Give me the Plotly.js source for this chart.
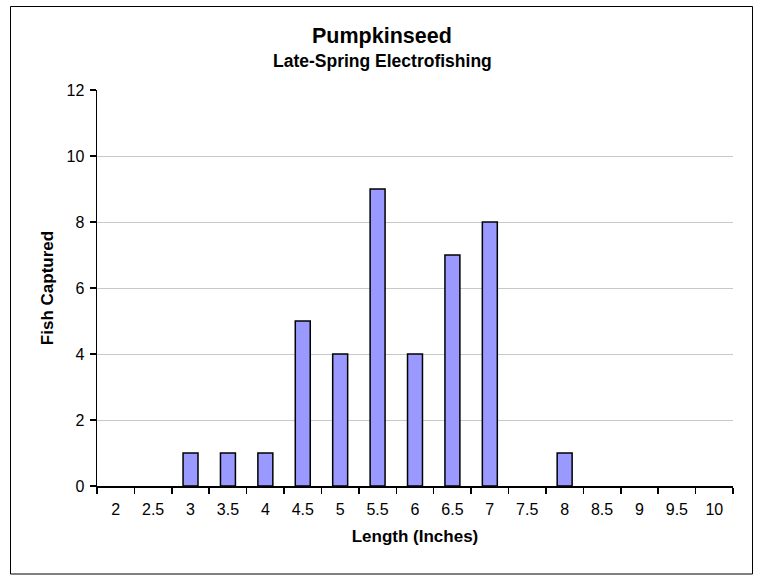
<!DOCTYPE html>
<html><head><meta charset="utf-8">
<script src="https://cdn.plot.ly/plotly-3.0.1.min.js"></script>
<style>html,body{margin:0;padding:0;background:#fff}#c{width:758px;height:576px}</style>
</head><body><div id="c"></div>
<script>
const lengths = ["2","2.5","3","3.5","4","4.5","5","5.5","6","6.5","7","7.5","8","8.5","9","9.5","10"];
const fishCaptured = [0,0,1,1,1,5,4,9,4,7,8,0,1,0,0,0,0];
const yTicks = [0,2,4,6,8,10,12];

const W=758,H=576,L=97,R=25,T=90,B=90;
const pw=W-L-R, ph=H-T-B;
const px=x=>(x-L)/pw, py=y=>(H-B-y)/ph;
const font='"Liberation Sans", Arial, sans-serif';

Plotly.newPlot('c',[{
  type:'bar', x:lengths, y:fishCaptured, width:0.4,
  marker:{color:'#9999ff', line:{color:'#000', width:fishCaptured.map(v=>v>0?1.5:0)}},
  hoverinfo:'skip'
}],{
  width:W,height:H,margin:{l:L,r:R,t:T,b:B},
  paper_bgcolor:'#fff',plot_bgcolor:'#fff',
  font:{family:font,color:'#000',size:15},
  showlegend:false,
  xaxis:{type:'category',tickson:'boundaries',ticks:'outside',ticklen:6,tickwidth:1.5,tickcolor:'#000',
    showline:true,linecolor:'#000',linewidth:1.5,showgrid:false,zeroline:false,
    tickfont:{size:16,family:font},ticklabelstandoff:8,
    title:{text:'<b>Length (Inches)</b>',font:{size:17,family:font},standoff:13}},
  yaxis:{range:[0,12],tickvals:yTicks,ticks:'outside',ticklen:6,tickwidth:1.5,tickcolor:'#000',
    showline:true,linecolor:'#000',linewidth:1.5,showgrid:true,gridcolor:'#c8c8c8',gridwidth:1,zeroline:false,
    tickfont:{size:16,family:font},ticklabelstandoff:2,
    title:{text:'<b>Fish Captured</b>',font:{size:17,family:font},standoff:8}},
  annotations:[
    {xref:'paper',yref:'paper',x:px(382),y:py(36),text:'<b>Pumpkinseed</b>',showarrow:false,font:{size:21.5,family:font},xanchor:'center',yanchor:'middle'},
    {xref:'paper',yref:'paper',x:px(382),y:py(61),text:'<b>Late-Spring Electrofishing</b>',showarrow:false,font:{size:17.5,family:font},xanchor:'center',yanchor:'middle'}
  ],
  shapes:[{type:'rect',xref:'paper',yref:'paper',x0:px(10.5),x1:px(752.5),y0:py(574),y1:py(6.5),line:{color:'#000',width:1}}]
},{displayModeBar:false,staticPlot:true});
</script></body></html>
